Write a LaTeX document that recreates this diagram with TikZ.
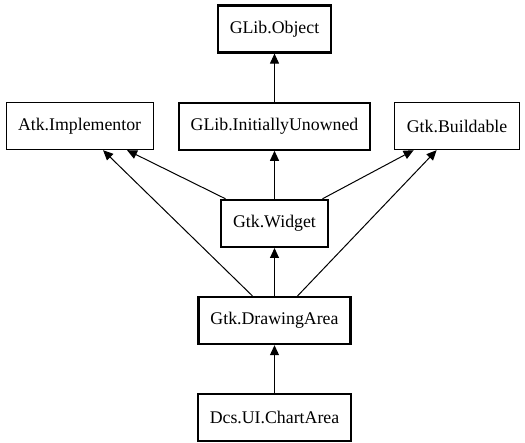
\documentclass[tikz,border=0pt]{standalone}
\usepackage{fontspec}
\setmainfont{Liberation Serif}
\usetikzlibrary{arrows.meta, positioning}

\begin{document}
\begin{tikzpicture}[
    x=1pt, y=1pt,
    node distance=48pt and 24pt,
    cls/.style={rectangle, draw, line width=1pt, inner xsep=12pt, minimum height=47pt, font=\fontsize{17.8}{20}\selectfont},
    own/.style={cls, line width=2.2pt},
    arrow/.style={line width=1pt, -{Triangle[length=10pt, width=9pt]}}
]
\useasboundingbox (0,0) rectangle (525,443);

% Nodes
\node (obj) [own] at (274.5,414) {GLib.Object};
\node (iu) [own, below=of obj] {GLib.InitiallyUnowned};
\node (atk) [cls, left=of iu] {Atk.Implementor};
\node (bld) [cls, right=23pt of iu] {Gtk.Buildable};
\node (wid) [own, below=of iu] {Gtk.Widget};
\node (da) [own, below=of wid] {Gtk.DrawingArea};
\node (ca) [own, below=of da] {Dcs.UI.ChartArea};

% Arrows
\draw [arrow] (iu) -- (obj);
\draw [arrow] (wid) -- (iu);
\draw [arrow] ([xshift=-49pt]wid.north) -- ([xshift=47.5pt]atk.south);
\draw [arrow] ([xshift=48pt]wid.north) -- ([xshift=-43.5pt]bld.south);
\draw [arrow] (da) -- (wid);
\draw [arrow] ([xshift=-22pt]da.north) -- ([xshift=23.5pt]atk.south);
\draw [arrow] ([xshift=23pt]da.north) -- ([xshift=-20.5pt]bld.south);
\draw [arrow] (ca) -- (da);

\end{tikzpicture}
\end{document}
